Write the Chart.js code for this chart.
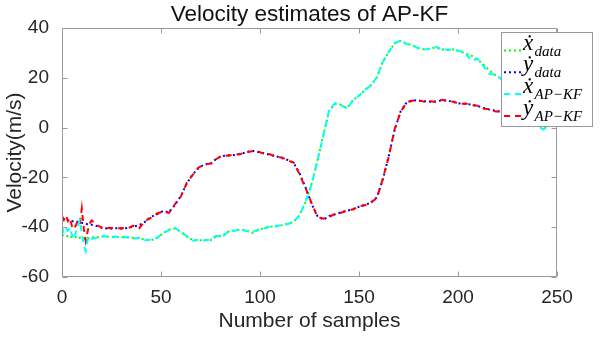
<!DOCTYPE html>
<html>
<head>
<meta charset="utf-8">
<script src="https://cdn.jsdelivr.net/npm/chart.js@4"></script>
<style>
  body { margin: 0; background: #fff; }
</style>
</head>
<body>
<canvas id="chart" width="611" height="337"></canvas>
<script>
// sample index (x axis)
const samples = [0, 1, 2, 3, 4, 5, 6, 7, 8, 9, 10, 11, 12, 13, 14, 15,
  18, 21, 24, 27, 30, 33, 36, 39, 42, 45, 48, 51, 54, 57, 60, 63, 66, 69,
  72, 75, 78, 81, 84, 87, 90, 93, 96, 99, 102, 105, 108, 111, 114, 117, 120, 123, 126, 129,
  132, 135, 138, 141, 144, 147, 150, 153, 156, 159, 162, 165, 168, 171, 174, 177, 180, 183, 186, 189,
  192, 195, 198, 201, 204, 207, 210, 213, 216, 219, 222, 225, 228, 231, 234, 237, 240, 243, 246];

// x velocity, measured
const xData = [-43.0, -43.4, -43.9, -43.5, -44.2, -43.8, -44.3, -43.9, -44.6, -44.2, -44.8, -44.5, -44.9, -44.3, -44.6, -44.1,
  -44.0, -43.7, -43.8, -44.0, -43.9, -44.1, -44.3, -44.5, -45.0, -45.3, -44.2, -42.5, -41.0, -40.5, -41.8, -43.8, -45.2, -45.3,
  -45.1, -45.2, -43.8, -43.5, -41.8, -41.3, -41.0, -41.2, -42.3, -41.2, -40.3, -39.9, -39.5, -39.2, -38.6, -37.9, -35.0, -30.0, -22.7, -13.4,
  -3.0, 7.0, 9.5, 9.2, 7.9, 11.0, 13.0, 15.0, 17.0, 20.0, 26.5, 30.2, 34.0, 34.8, 33.8, 33.0, 32.0, 31.4, 31.8, 32.2,
  31.4, 31.2, 31.4, 30.6, 29.8, 28.8, 27.3, 25.2, 22.8, 21.0, 19.5, 16.0, 13.0, 10.0, 7.0, 4.0, 1.2, -0.3, 0.4];

// y velocity, measured
const yData = [-37.0, -37.2, -37.4, -37.3, -37.6, -37.5, -37.8, -37.6, -37.9, -37.8, -38.2, -38.3, -38.6, -38.8, -38.7, -39.0,
  -39.6, -40.4, -40.6, -40.4, -40.6, -40.3, -39.8, -39.2, -37.8, -35.8, -34.8, -33.5, -34.0, -31.1, -27.5, -22.5, -18.8, -16.2,
  -14.7, -14.6, -12.4, -11.4, -11.1, -11.0, -10.5, -10.0, -9.3, -9.8, -10.3, -10.9, -11.5, -12.2, -13.0, -14.2, -18.4, -24.0, -30.5, -35.5,
  -37.0, -35.5, -34.8, -34.0, -33.4, -32.7, -31.8, -31.0, -30.2, -28.0, -21.0, -11.5, -1.0, 6.5, 10.0, 11.0, 10.8, 10.6, 10.4, 10.5,
  11.0, 10.8, 10.2, 9.7, 9.5, 9.2, 8.6, 7.9, 7.2, 6.8, 6.3, 6.0, 5.7, 5.4, 5.0, 4.7, 4.4, 4.2, 4.0];

// x velocity, AP-KF estimate
const xKF = [-40.0, -42.4, -40.6, -41.5, -40.2, -43.0, -44.8, -42.0, -39.5, -37.2, -42.5, -47.0, -49.5, -45.0, -43.6, -44.6,
  -44.3, -43.5, -44.1, -43.7, -44.2, -43.9, -44.5, -44.3, -45.2, -45.0, -44.4, -42.2, -41.3, -40.3, -42.0, -43.5, -45.4, -45.0,
  -45.3, -44.9, -43.4, -44.0, -41.6, -41.5, -40.8, -41.5, -42.0, -41.0, -40.5, -39.7, -39.7, -39.0, -38.8, -37.6, -35.3, -29.6, -23.0, -13.2,
  -3.3, 7.4, 9.8, 9.0, 7.6, 11.2, 12.8, 15.2, 16.8, 20.3, 26.2, 30.5, 33.8, 35.0, 33.6, 33.2, 31.8, 31.6, 31.5, 32.4,
  31.2, 31.4, 31.2, 30.8, 29.5, 26.8, 27.6, 24.5, 21.5, 21.4, 19.2, 16.3, 12.8, 10.2, 6.8, 4.2, 1.0, -0.8, 0.6];

// y velocity, AP-KF estimate
const yKF = [-35.5, -37.0, -35.2, -37.5, -36.3, -39.5, -40.8, -39.2, -37.5, -38.8, -32.5, -40.5, -45.5, -41.5, -38.5, -37.3,
  -39.2, -40.8, -40.2, -40.6, -40.3, -40.5, -39.4, -40.4, -37.5, -36.2, -34.5, -33.8, -34.3, -30.8, -27.8, -22.2, -19.0, -16.0,
  -14.9, -14.4, -12.6, -11.2, -11.3, -10.8, -10.7, -9.8, -9.5, -9.6, -10.5, -10.7, -11.7, -12.0, -13.2, -14.0, -18.8, -24.3, -30.2, -35.8,
  -36.6, -35.8, -34.6, -34.2, -33.2, -32.9, -31.6, -31.2, -30.0, -28.4, -20.6, -11.8, -0.6, 6.2, 10.2, 10.8, 11.0, 10.4, 10.6, 10.3,
  11.2, 10.6, 10.4, 9.5, 9.7, 9.0, 8.8, 7.6, 7.4, 6.5, 6.5, 5.8, 5.8, 5.2, 5.1, 4.5, 4.5, 4.0, 4.1];

// legend labels: symbol + subscript
const legendSyms = ['ẋ', 'ẏ', 'ẋ', 'ẏ'];
const legendSubs = ['data', 'data', 'AP\u2212KF', 'AP\u2212KF'];

const sans = '"Liberation Sans", Arial, sans-serif';
const serif = '"Liberation Serif", "DejaVu Serif", serif';
const toPts = arr => samples.map((s, i) => ({ x: s, y: arr[i] }));

// box with inward ticks, like matlab axes
const frame = {
  id: 'frame',
  afterDatasetsDraw(chart) {
    const { ctx, chartArea: a, scales: { x, y } } = chart;
    const L = Math.round(a.left) + 0.5, R = Math.round(a.right) - 0.5;
    const T = Math.round(a.top) + 0.5, B = Math.round(a.bottom) - 0.5;
    ctx.save();
    ctx.strokeStyle = '#9a9a9a';
    ctx.lineWidth = 1;
    ctx.beginPath();
    ctx.moveTo(L, T); ctx.lineTo(R, T); ctx.lineTo(R, B); ctx.lineTo(L, B); ctx.closePath();
    x.ticks.forEach(t => {
      const px = Math.round(x.getPixelForValue(t.value)) + 0.5;
      ctx.moveTo(px, B); ctx.lineTo(px, B - 5);
      ctx.moveTo(px, T); ctx.lineTo(px, T + 5);
    });
    y.ticks.forEach(t => {
      const py = Math.round(y.getPixelForValue(t.value)) + 0.5;
      ctx.moveTo(L, py); ctx.lineTo(L + 5, py);
      ctx.moveTo(R, py); ctx.lineTo(R - 5, py);
    });
    ctx.stroke();
    ctx.restore();
  }
};

// legend with dotted symbols and subscripts
const mathLegend = {
  id: 'mathLegend',
  afterDatasetsDraw(chart) {
    const ctx = chart.ctx;
    ctx.save();
    ctx.fillStyle = '#fff';
    ctx.strokeStyle = '#9a9a9a';
    ctx.lineWidth = 1;
    ctx.fillRect(501.5, 32.5, 91, 94);
    ctx.strokeRect(501.5, 32.5, 91, 94);
    chart.data.datasets.forEach((ds, i) => {
      const ly = 50.5 + i * 21.8;
      ctx.strokeStyle = ds.borderColor;
      ctx.lineWidth = ds.borderWidth;
      ctx.setLineDash(ds.borderDash);
      ctx.beginPath();
      ctx.moveTo(504, ly); ctx.lineTo(522, ly);
      ctx.stroke();
      ctx.setLineDash([]);
      ctx.fillStyle = '#000';
      ctx.textBaseline = 'alphabetic';
      ctx.textAlign = 'left';
      ctx.font = 'italic 23px ' + serif;
      ctx.fillText(legendSyms[i], 523, ly - 1);
      ctx.font = 'italic 15px ' + serif;
      ctx.fillText(legendSubs[i], 534.5, ly + 5);
    });
    ctx.restore();
  }
};

new Chart(document.getElementById('chart'), {
  type: 'line',
  data: {
    datasets: [
      { label: 'x data', data: toPts(xData), borderColor: '#00ff00', borderWidth: 2, borderDash: [2, 3], order: 1 },
      { label: 'y data', data: toPts(yData), borderColor: '#0000ff', borderWidth: 2, borderDash: [2, 3], order: 1 },
      { label: 'x AP-KF', data: toPts(xKF), borderColor: '#00ffff', borderWidth: 2, borderDash: [6, 5], order: 0 },
      { label: 'y AP-KF', data: toPts(yKF), borderColor: '#ff0000', borderWidth: 2, borderDash: [6, 5], order: 0 }
    ]
  },
  options: {
    responsive: false,
    animation: false,
    devicePixelRatio: 1,
    elements: { point: { radius: 0 }, line: { tension: 0, fill: false, borderCapStyle: 'butt' } },
    layout: { padding: { left: 0, right: 54, top: 0, bottom: 0 } },
    plugins: {
      legend: { display: false },
      tooltip: { enabled: false },
      title: {
        display: true,
        fullSize: false,
        text: 'Velocity estimates of AP-KF',
        color: '#111',
        font: { family: sans, size: 22.5, weight: 'normal' },
        padding: { top: 1, bottom: 0 }
      }
    },
    scales: {
      x: {
        type: 'linear', min: 0, max: 250,
        ticks: { stepSize: 50, color: '#262626', font: { family: sans, size: 19 }, padding: 1, maxRotation: 0 },
        grid: { display: false },
        border: { display: false },
        title: { display: true, text: 'Number of samples', color: '#262626', font: { family: sans, size: 21 }, padding: { top: 0, bottom: 3 } },
        afterFit: s => { s.height = 60; }
      },
      y: {
        type: 'linear', min: -60, max: 40,
        ticks: { stepSize: 20, color: '#262626', font: { family: sans, size: 19 }, padding: 5 },
        grid: { display: false },
        border: { display: false },
        title: { display: true, text: 'Velocity(m/s)', color: '#262626', font: { family: sans, size: 21 }, padding: { top: 3, bottom: 0 } },
        afterFit: s => { s.width = 62; }
      }
    }
  },
  plugins: [frame, mathLegend]
});
</script>
</body>
</html>
